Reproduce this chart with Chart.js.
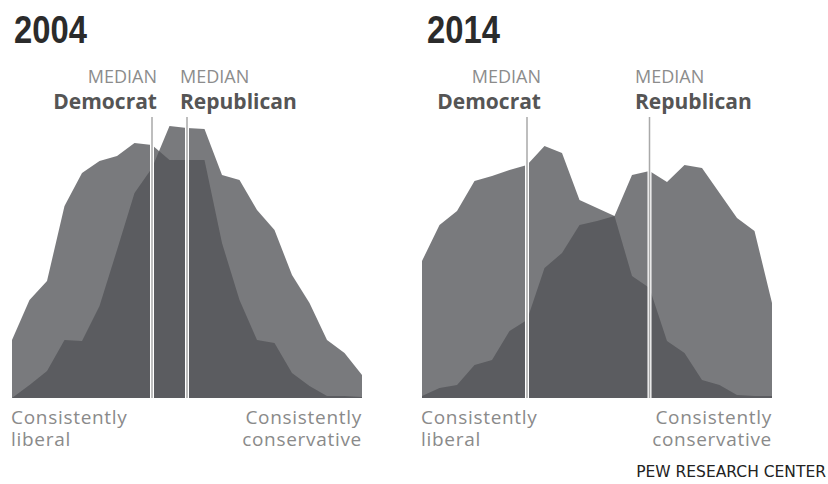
<!DOCTYPE html>
<html>
<head>
<meta charset="utf-8">
<script src="https://cdn.jsdelivr.net/npm/chart.js@4/dist/chart.umd.min.js"></script>
<style>
  html, body { margin: 0; padding: 0; background: #fff; }
  body { position: relative; width: 828px; height: 484px; overflow: hidden; font-family: "Open Sans", sans-serif; }
  .t { position: absolute; white-space: nowrap; line-height: 1; }
  .year { font-family: "Liberation Sans", Arial, sans-serif; font-weight: 700; font-size: 39px; color: #2b2b2b; top: 10px; transform: scaleX(0.84); transform-origin: 0 0; }
  .med { font-size: 18px; color: #8c8c8c; top: 67px; }
  .party { font-size: 21px; font-weight: 700; color: #555; top: 91px; }
  .end { font-size: 19px; line-height: 22px; letter-spacing: 0.7px; color: #8a8a8a; top: 406px; }
  .src { font-family: "DejaVu Sans", sans-serif; font-size: 15.5px; color: #222; top: 465px; right: 2px; }
  canvas { position: absolute; top: 108px; }
</style>
</head>
<body>
<div class="t year" style="left:14px">2004</div>
<div class="t year" style="left:427px">2014</div>

<div class="t med" style="right:671px;text-align:right">MEDIAN</div>
<div class="t party" style="right:671px;text-align:right">Democrat</div>
<div class="t med" style="left:180px">MEDIAN</div>
<div class="t party" style="left:180px">Republican</div>

<div class="t med" style="right:287px;text-align:right">MEDIAN</div>
<div class="t party" style="right:287px;text-align:right">Democrat</div>
<div class="t med" style="left:635px">MEDIAN</div>
<div class="t party" style="left:635px">Republican</div>

<canvas id="c2004" width="350" height="290" style="left:12px"></canvas>
<canvas id="c2014" width="350" height="290" style="left:422px"></canvas>

<div class="t end" style="left:11px">Consistently<br>liberal</div>
<div class="t end" style="right:466px;text-align:right">Consistently<br>conservative</div>
<div class="t end" style="left:421px">Consistently<br>liberal</div>
<div class="t end" style="right:56px;text-align:right">Consistently<br>conservative</div>

<div class="t src">PEW RESEARCH CENTER</div>

<script>
// ideological consistency scale, -10 (consistently liberal) to +10 (consistently conservative)
const scalePoints = [-10, -9, -8, -7, -6, -5, -4, -3, -2, -1, 0, 1, 2, 3, 4, 5, 6, 7, 8, 9, 10];

// relative share of each party at each scale point
const dem2004 = [58, 98, 117, 192, 225, 237, 242, 255, 253, 238, 238, 238, 155, 98, 58, 55, 25, 12, 2, 2, 1];
const rep2004 = [0, 13, 27, 58, 57, 92, 148, 205, 230, 272, 270, 269, 223, 218, 188, 168, 123, 95, 58, 45, 23];
const dem2014 = [137, 173, 187, 217, 222, 228, 233, 252, 245, 198, 190, 182, 122, 110, 57, 45, 18, 13, 3, 2, 2];
const rep2014 = [2, 10, 13, 33, 38, 67, 78, 130, 145, 173, 177, 182, 223, 227, 216, 233, 230, 205, 180, 167, 95];

// medians on the scale
const medians2004 = { dem: -2, rep: 0 };
const medians2014 = { dem: -4, rep: 3 };

const AREA_FILL = "rgba(83, 84, 88, 0.775)"; // overlap comes out darker
const MEDIAN_TOP = 281;

function areaDataset(label, values) {
  return {
    label,
    data: values.map((v, i) => ({ x: scalePoints[i], y: v })),
    fill: "origin",
    backgroundColor: AREA_FILL,
    borderWidth: 0,
    pointRadius: 0,
    tension: 0,
    order: 3,
  };
}

function medianDatasets(xPos) {
  const pts = [{ x: xPos, y: 0 }, { x: xPos, y: MEDIAN_TOP }];
  return [
    { label: "median-bg", data: pts, borderColor: "#ffffff", borderWidth: 4, pointRadius: 0, fill: false, order: 1 },
    { label: "median", data: pts, borderColor: "#a9a9a9", borderWidth: 1.5, pointRadius: 0, fill: false, order: 0 },
  ];
}

function renderDistribution(canvasId, dem, rep, medians) {
  const canvas = document.getElementById(canvasId);
  if (!canvas) return null;
  const ctx = canvas.getContext("2d");
  const datasets = [
    ...medianDatasets(medians.dem),
    ...medianDatasets(medians.rep),
    areaDataset("Democrats", dem),
    areaDataset("Republicans", rep),
  ];
  return new Chart(ctx, {
    type: "line",
    data: { datasets },
    options: {
      responsive: false,
      animation: false,
      layout: { padding: 0 },
      scales: {
        x: { type: "linear", min: -10, max: 10, display: false },
        y: { min: 0, max: 290, display: false },
      },
      plugins: { legend: { display: false }, tooltip: { enabled: false } },
    },
  });
}

renderDistribution("c2004", dem2004, rep2004, medians2004);
renderDistribution("c2014", dem2014, rep2014, medians2014);
</script>
</body>
</html>
